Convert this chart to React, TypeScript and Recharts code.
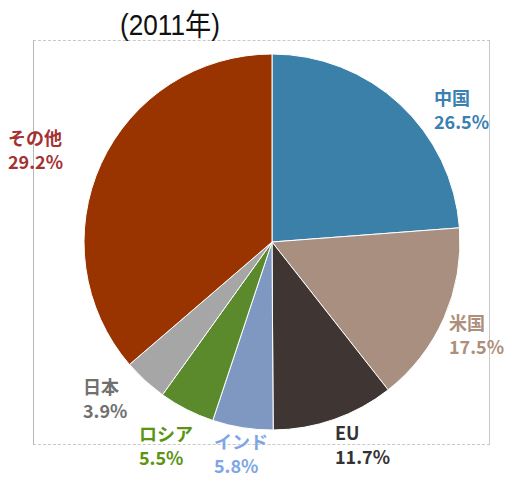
import React from 'react';
import { PieChart, Pie, Cell } from 'recharts';

// slice sizes as drawn (angles)
const regions = ['中国', '米国', 'EU', 'インド', 'ロシア', '日本', 'その他'];
const sliceValues = [23.8, 15.6, 10.5, 5.2, 4.8, 3.8, 36.3];
// printed share labels
const shareLabels = ['26.5%', '17.5%', '11.7%', '5.8%', '5.5%', '3.9%', '29.2%'];

const sliceColors = ['#3b80a8', '#a88f7f', '#3f3532', '#7f98c2', '#5a8a2c', '#a6a6a6', '#993300'];
const labelColors = ['#3a80b0', '#ad8f7c', '#333333', '#7ea6e6', '#5b9412', '#707070', '#a33232'];
// label anchor (left x, first line centre y)
const labelPos: [number, number][] = [
  [434, 97],
  [449, 322],
  [335, 432],
  [214, 441],
  [139, 433],
  [83, 386],
  [8, 137],
];

const data = regions.map((name, i) => ({ name, value: sliceValues[i], share: shareLabels[i] }));

const renderLabel = (props: any) => {
  const i = props.index;
  const [x, y] = labelPos[i];
  const common = {
    fill: labelColors[i],
    fontSize: 18,
    fontWeight: 'bold' as const,
    fontFamily: "'Noto Sans CJK JP', sans-serif",
    dominantBaseline: 'central' as const,
  };
  return (
    <g key={`lbl-${i}`}>
      <text x={x} y={y} {...common}>{regions[i]}</text>
      <text x={x} y={y + 24} {...common}>{shareLabels[i]}</text>
    </g>
  );
};

const App = () => {
  return (
    <div style={{ position: 'absolute', left: 0, top: 0, width: 509, height: 478, background: '#fff' }}>
      <div
        style={{
          position: 'absolute',
          left: 33,
          top: 40,
          width: 457,
          height: 405,
          borderLeft: '1px solid #b8b8b8',
          borderTop: '1px dashed #c8c8c8',
          borderBottom: '1px dashed #c8c8c8',
          borderRight: '1px solid #c8c8c8',
          boxSizing: 'border-box',
        }}
      />
      <div style={{ position: 'absolute', left: 0, top: 0 }}>
        <PieChart width={509} height={478} margin={{ top: 0, right: 0, bottom: 0, left: 0 }}>
          <text
            x={120}
            y={35}
            fontSize={30}
            fill="#111"
            textLength={100}
            lengthAdjust="spacingAndGlyphs"
            fontFamily="'Liberation Sans', 'Noto Sans CJK JP', sans-serif"
          >
            (2011年)
          </text>
          <Pie
            data={data}
            dataKey="value"
            nameKey="name"
            cx={272}
            cy={242}
            outerRadius={188}
            startAngle={90}
            endAngle={-270}
            stroke="#ffffff"
            strokeWidth={1}
            label={renderLabel}
            labelLine={false}
            isAnimationActive={false}
          >
            {data.map((entry, index) => (
              <Cell key={`cell-${index}`} fill={sliceColors[index]} />
            ))}
          </Pie>
        </PieChart>
      </div>
    </div>
  );
};

export default App;
